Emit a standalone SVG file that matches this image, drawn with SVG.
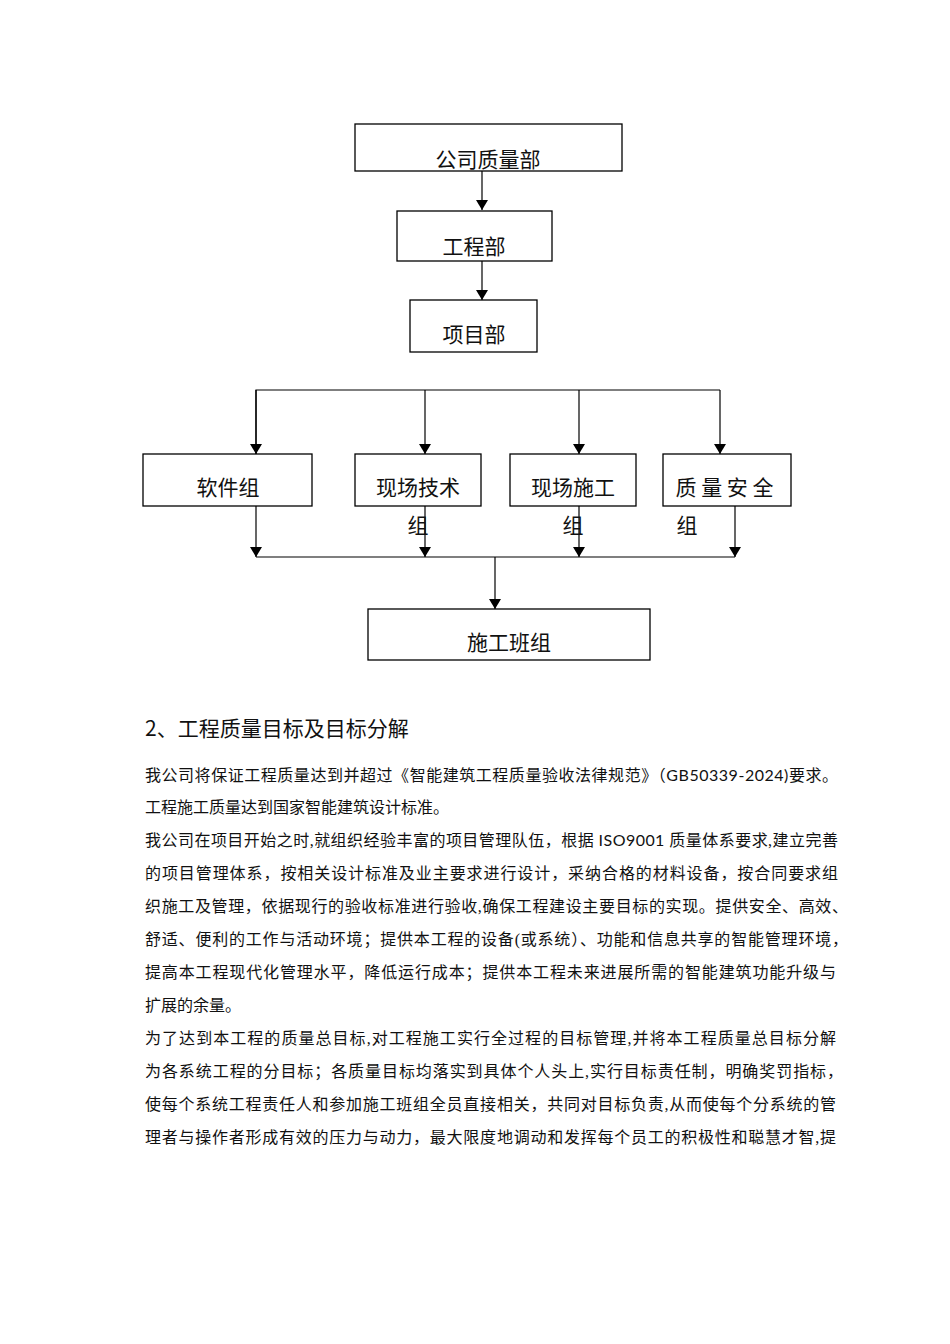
<svg xmlns="http://www.w3.org/2000/svg" width="950" height="1344" viewBox="0 0 950 1344">
<defs>
<marker id="ah" viewBox="0 0 10 12" refX="10" refY="6" markerWidth="10" markerHeight="12" markerUnits="userSpaceOnUse" orient="auto">
<path d="M0,0 L10,6 L0,12 Z" fill="#000"/>
</marker>
<style>
.box{fill:#fff;stroke:#000;stroke-width:1.3}
.lbl{font-family:"Noto Sans CJK SC","Liberation Serif",serif;font-size:21px;fill:#111;text-anchor:middle}
.con{fill:none;stroke:#000;stroke-width:1.2}
.arr{fill:none;stroke:#000;stroke-width:1.2;marker-end:url(#ah)}
.h{font-family:"Noto Sans CJK SC","Liberation Sans",sans-serif;font-size:21px;fill:#111}
.p{font-family:"Liberation Serif","Noto Sans CJK SC",serif;font-size:16px;fill:#111}
</style>
</defs>
<rect width="950" height="1344" fill="#fff"/>

<g id="connectors">
<line class="arr" x1="482" y1="171" x2="482" y2="210"/>
<line class="arr" x1="482" y1="261" x2="482" y2="300"/>
<polyline class="con" points="256,455 256,390 720,390"/>
<line class="arr" x1="256" y1="390" x2="256" y2="454"/>
<line class="arr" x1="425" y1="390" x2="425" y2="454"/>
<line class="arr" x1="579" y1="390" x2="579" y2="454"/>
<line class="arr" x1="720" y1="390" x2="720" y2="454"/>
<line class="con" x1="256" y1="557" x2="735" y2="557"/>
<line class="arr" x1="256" y1="506" x2="256" y2="557"/>
<line class="arr" x1="425" y1="506" x2="425" y2="557"/>
<line class="arr" x1="579" y1="506" x2="579" y2="557"/>
<line class="arr" x1="735" y1="506" x2="735" y2="557"/>
<line class="arr" x1="495" y1="557" x2="495" y2="609"/>
</g>

<g id="n-company">
<rect class="box" x="355" y="124" width="267" height="47"/>
<text class="lbl" x="488" y="167" font-size="22">公司质量部</text>
</g>
<g id="n-engineering">
<rect class="box" x="397" y="211" width="155" height="50"/>
<text class="lbl" x="474" y="254" font-size="22">工程部</text>
</g>
<g id="n-project">
<rect class="box" x="410" y="300" width="127" height="52"/>
<text class="lbl" x="474" y="342" font-size="22">项目部</text>
</g>
<g id="n-software">
<rect class="box" x="143" y="454" width="169" height="52"/>
<text class="lbl" x="228" y="495">软件组</text>
</g>
<g id="n-tech">
<rect class="box" x="355" y="454" width="126" height="52"/>
<text class="lbl" x="418" y="495">现场技术</text>
<text class="lbl" x="418" y="533">组</text>
</g>
<g id="n-construction">
<rect class="box" x="510" y="454" width="126" height="52"/>
<text class="lbl" x="573" y="495">现场施工</text>
<text class="lbl" x="573" y="533">组</text>
</g>
<g id="n-quality">
<rect class="box" x="663" y="454" width="128" height="52"/>
<text class="lbl" x="727" y="495" letter-spacing="5" textLength="103" lengthAdjust="spacing">质 量 安 全</text>
<text class="lbl" x="687" y="533">组</text>
</g>
<g id="n-team">
<rect class="box" x="368" y="609" width="282" height="51"/>
<text class="lbl" x="509" y="650">施工班组</text>
</g>

<g id="text">
<text class="h" x="145" y="736">2、工程质量目标及目标分解</text>
<text class="p" x="145" y="781" textLength="693" lengthAdjust="spacing">我公司将保证工程质量达到并超过《智能建筑工程质量验收法律规范》（<tspan font-family="Lato, 'Liberation Sans', sans-serif">GB50339-2024)</tspan>要求。</text>
<text class="p" x="145" y="813">工程施工质量达到国家智能建筑设计标准。</text>
<text class="p" x="145" y="846" textLength="693" lengthAdjust="spacing">我公司在项目开始之时,就组织经验丰富的项目管理队伍，根据 <tspan font-family="Lato, 'Liberation Sans', sans-serif">ISO9001</tspan> 质量体系要求,建立完善</text>
<text class="p" x="145" y="879" textLength="693" lengthAdjust="spacing">的项目管理体系，按相关设计标准及业主要求进行设计，采纳合格的材料设备，按合同要求组</text>
<text class="p" x="145" y="912" textLength="703" lengthAdjust="spacing">织施工及管理，依据现行的验收标准进行验收,确保工程建设主要目标的实现。提供安全、高效、</text>
<text class="p" x="145" y="945" textLength="703" lengthAdjust="spacing">舒适、便利的工作与活动环境；提供本工程的设备(或系统）、功能和信息共享的智能管理环境，</text>
<text class="p" x="145" y="978" textLength="691" lengthAdjust="spacing">提高本工程现代化管理水平，降低运行成本；提供本工程未来进展所需的智能建筑功能升级与</text>
<text class="p" x="145" y="1011">扩展的余量。</text>
<text class="p" x="145" y="1044" textLength="691" lengthAdjust="spacing">为了达到本工程的质量总目标,对工程施工实行全过程的目标管理,并将本工程质量总目标分解</text>
<text class="p" x="145" y="1077" textLength="698" lengthAdjust="spacing">为各系统工程的分目标；各质量目标均落实到具体个人头上,实行目标责任制，明确奖罚指标，</text>
<text class="p" x="145" y="1110" textLength="691" lengthAdjust="spacing">使每个系统工程责任人和参加施工班组全员直接相关，共同对目标负责,从而使每个分系统的管</text>
<text class="p" x="145" y="1143" textLength="691" lengthAdjust="spacing">理者与操作者形成有效的压力与动力，最大限度地调动和发挥每个员工的积极性和聪慧才智,提</text>
</g>
</svg>
